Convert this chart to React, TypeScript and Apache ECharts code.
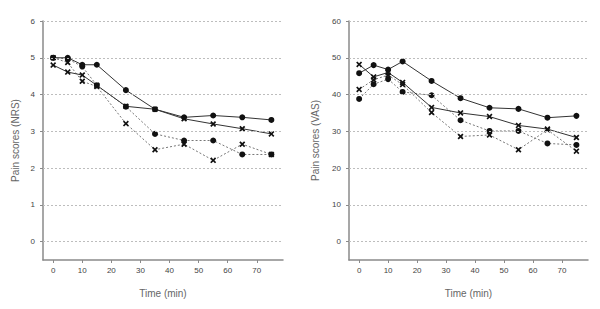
import React, { useEffect, useRef } from "react";
import * as echarts from "echarts";

const times = [0, 5, 10, 15, 25, 35, 45, 55, 65, 75];
const xTicks = [0, 10, 20, 30, 40, 50, 60, 70];
const nrsTicks = [0, 1, 2, 3, 4, 5, 6];
const vasTicks = [0, 10, 20, 30, 40, 50, 60];

const nrsSolidCircle = [5.0, 5.0, 4.81, 4.81, 4.12, 3.6, 3.38, 3.43, 3.38, 3.31];
const nrsSolidCross = [4.8, 4.61, 4.53, 4.25, 3.68, 3.6, 3.34, 3.2, 3.07, 2.93];
const nrsDashCircle = [5.0, 4.97, 4.76, 4.25, 3.67, 2.93, 2.75, 2.75, 2.37, 2.37];
const nrsDashCross = [5.0, 4.87, 4.36, 4.22, 3.21, 2.5, 2.65, 2.21, 2.65, 2.37];

const vasSolidCircle = [45.8, 48.0, 46.8, 49.0, 43.7, 39.0, 36.4, 36.1, 33.7, 34.2];
const vasSolidCross = [48.2, 44.8, 46.0, 43.3, 36.5, 35.0, 34.0, 31.6, 30.6, 28.3];
const vasDashCircle = [38.8, 42.8, 44.2, 40.7, 39.8, 33.0, 30.1, 30.1, 26.7, 26.3];
const vasDashCross = [41.4, 44.0, 45.3, 42.7, 35.1, 28.6, 29.0, 25.0, 30.4, 24.6];

const FONT = "Liberation Sans";
const CROSS =
  "path://M0,2 L2,0 L5,3 L8,0 L10,2 L7,5 L10,8 L8,10 L5,7 L2,10 L0,8 L3,5 Z";

function pairs(vals: number[]) {
  return times.map((t, i) => [t, vals[i]]);
}

export default function App() {
  const ref = useRef<HTMLDivElement>(null);
  useEffect(() => {
    document.body.style.margin = "0";
    const chart = echarts.init(ref.current!, null, { renderer: "svg" });

    const xAxis = (gi: number) => ({
      type: "value",
      gridIndex: gi,
      min: -3.5,
      max: 79,
      axisLine: { show: true, onZero: false, lineStyle: { color: "#8a8a8a", width: 1.5 } },
      axisTick: { show: true, customValues: xTicks, length: 3, lineStyle: { color: "#8a8a8a" } },
      axisLabel: { customValues: xTicks, fontSize: 8, color: "#444", margin: 6, fontFamily: FONT },
      splitLine: { show: false },
      name: "Time (min)",
      nameLocation: "middle",
      nameGap: 28,
      nameTextStyle: { fontSize: 10, color: "#666", fontFamily: FONT },
    });
    const yAxis = (gi: number, min: number, max: number, ticks: number[], name: string, gap: number) => ({
      type: "value",
      gridIndex: gi,
      min,
      max,
      axisLine: { show: true, onZero: false, lineStyle: { color: "#8a8a8a", width: 1.5 } },
      axisTick: { show: true, customValues: ticks, length: 3, lineStyle: { color: "#8a8a8a" } },
      axisLabel: { customValues: ticks, fontSize: 8, color: "#444", margin: 8, fontFamily: FONT },
      splitLine: { show: false },
      name,
      nameLocation: "middle",
      nameGap: gap,
      nameTextStyle: { fontSize: 10, color: "#666", fontFamily: FONT },
    });

    const gridLines = (ticks: number[]) => ({
      silent: true,
      symbol: "none",
      label: { show: false },
      lineStyle: { color: "#bdbdbd", type: [2, 2], width: 1 },
      data: ticks.map((v) => ({ yAxis: v })),
    });

    const mk = (gi: number, vals: number[], solid: boolean, circle: boolean, ticks?: number[]) => ({
      type: "line",
      xAxisIndex: gi,
      yAxisIndex: gi,
      data: pairs(vals),
      symbol: circle ? "circle" : CROSS,
      symbolSize: circle ? 6 : 6,
      showSymbol: true,
      itemStyle: { color: "#111", borderWidth: 0 },
      lineStyle: solid
        ? { color: "#333", width: 1, type: "solid" }
        : { color: "#777", width: 1, type: [2, 2] },
      z: 3,
      ...(ticks ? { markLine: gridLines(ticks) } : {}),
    });

    chart.setOption({
      animation: false,
      backgroundColor: "#fff",
      grid: [
        { left: 43, top: 21, width: 240, height: 239, containLabel: false },
        { left: 349, top: 21, width: 239, height: 239, containLabel: false },
      ],
      xAxis: [xAxis(0), xAxis(1)],
      yAxis: [
        yAxis(0, -0.5, 6, nrsTicks, "Pain scores (NRS)", 23),
        yAxis(1, -5, 60, vasTicks, "Pain scores (VAS)", 29),
      ],
      series: [
        mk(0, nrsDashCircle, false, true, nrsTicks),
        mk(0, nrsDashCross, false, false),
        mk(0, nrsSolidCircle, true, true),
        mk(0, nrsSolidCross, true, false),
        mk(1, vasDashCircle, false, true, vasTicks),
        mk(1, vasDashCross, false, false),
        mk(1, vasSolidCircle, true, true),
        mk(1, vasSolidCross, true, false),
      ],
    });
    return () => chart.dispose();
  }, []);
  return <div ref={ref} style={{ width: 600, height: 309 }} />;
}
